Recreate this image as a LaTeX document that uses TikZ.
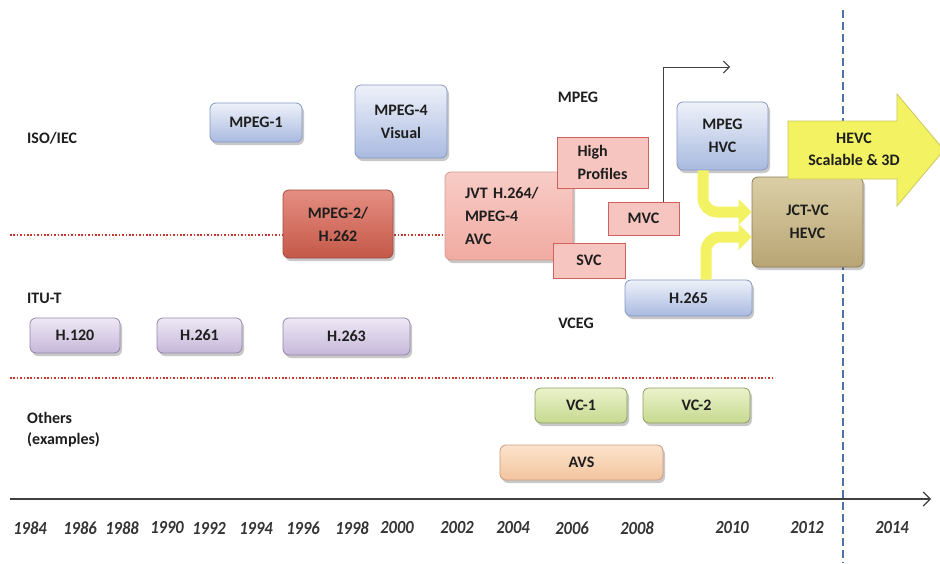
\documentclass[tikz,border=0pt]{standalone}
\usepackage{fontspec}
\setmainfont{Carlito}
\usetikzlibrary{arrows.meta,shadows}

\definecolor{inkc}{HTML}{1E1E1E}
\definecolor{blueT}{HTML}{EEF1F9}
\definecolor{blueB}{HTML}{A9BAE0}
\definecolor{blueD}{HTML}{8797C2}
\definecolor{redT}{HTML}{E58E82}
\definecolor{redB}{HTML}{C45848}
\definecolor{redD}{HTML}{A44A3E}
\definecolor{pinkT}{HTML}{F8CCC6}
\definecolor{pinkB}{HTML}{F0AAA1}
\definecolor{pinkD}{HTML}{D49A92}
\definecolor{pinkF}{HTML}{F7C5BF}
\definecolor{pinkE}{HTML}{D0625C}
\definecolor{purT}{HTML}{EEE8F4}
\definecolor{purB}{HTML}{C6B7DA}
\definecolor{purD}{HTML}{9486A6}
\definecolor{tanT}{HTML}{DBCEA6}
\definecolor{tanB}{HTML}{B8A574}
\definecolor{tanD}{HTML}{8C7C58}
\definecolor{grnT}{HTML}{EAF2CB}
\definecolor{grnB}{HTML}{C6D98F}
\definecolor{grnD}{HTML}{8E9E64}
\definecolor{pchT}{HTML}{FCE3CC}
\definecolor{pchB}{HTML}{F3C49E}
\definecolor{pchD}{HTML}{C99C7E}
\definecolor{yel}{HTML}{F2F262}
\definecolor{yelD}{HTML}{C9C960}
\definecolor{sepred}{HTML}{C8382E}
\definecolor{dashblue}{HTML}{4C72A8}

\tikzset{
  lbl/.style={font=\bfseries\fontsize{16}{19}\selectfont, text=inkc, inner sep=0pt},
  yearlbl/.style={font=\bfseries\itshape\fontsize{16.5}{19}\selectfont, text=inkc!90, inner sep=0pt},
  sz/.style 2 args={minimum width=#1pt, minimum height=#2pt},
  box/.style={rounded corners=6pt, line width=0.8pt, inner sep=0pt, align=center,
    font=\bfseries\fontsize{16}{23}\selectfont, text=inkc,
    drop shadow={shadow xshift=2pt, shadow yshift=-3pt, opacity=0.3, fill=black!70}},
  bluebox/.style={box, draw=blueD, top color=blueT, bottom color=blueB},
  redbox/.style={box, draw=redD, top color=redT, bottom color=redB},
  pinkbox/.style={box, draw=pinkD, top color=pinkT, bottom color=pinkB},
  purbox/.style={box, draw=purD, top color=purT, bottom color=purB},
  tanbox/.style={box, draw=tanD, top color=tanT, bottom color=tanB},
  grnbox/.style={box, draw=grnD, top color=grnT, bottom color=grnB},
  pchbox/.style={box, draw=pchD, top color=pchT, bottom color=pchB},
  subbox/.style={draw=pinkE, fill=pinkF, line width=0.8pt, inner sep=0pt, align=left,
    font=\bfseries\fontsize{16}{23}\selectfont, text=inkc},
  sepline/.style={draw=sepred, line width=1.6pt, dash pattern=on 1.6pt off 1.8pt},
  yflow/.style={draw=yel, line width=11pt, rounded corners=14pt,
    -{Triangle[length=13pt,width=25pt]}},
  thinflow/.style={draw=inkc!85, line width=1pt, -{Straight Barb[length=6pt,width=12pt]}},
  axisline/.style={draw=inkc!85, line width=1.2pt, -{Straight Barb[length=7pt,width=14pt]}},
}

\begin{document}
\begin{tikzpicture}[x=1pt,y=-1pt]
\useasboundingbox (0,0) rectangle (940,563);
\fill[white] (0,0) rectangle (940,563);

% 2013 marker
\draw[dashblue, line width=2.6pt, dash pattern=on 8pt off 4pt] (843,10) -- (843,563);

% group separators
\draw[sepline] (10,235) -- (445,235);
\draw[sepline] (10,378) -- (775,378);

% group labels
\node[lbl, anchor=west] (isoiec) at (27,138) {ISO/IEC};
\node[lbl] (mpeglbl) at (578,97) {MPEG};
\node[lbl, anchor=west] (itut) at (27,298) {ITU-T};
\node[lbl] (vceglbl) at (576,323) {VCEG};
\node[lbl, anchor=west, align=left, font=\bfseries\fontsize{16}{21}\selectfont] (others) at (27,430) {Others\\(examples)};

% ISO/IEC standards
\node[bluebox, sz={92}{39}] (mpegone) at (256,122.5) {MPEG-1};
\node[bluebox, sz={92}{73}] (mpegfour) at (401,121.5) {MPEG-4\\Visual};
\node[redbox, sz={110}{68}] (mpegtwo) at (338,224) {MPEG-2/\\H.262};

% joint AVC work and its extensions
\node[pinkbox, sz={128}{88}, align=left, text width=88pt] (jvt) at (509,216) {JVT H.264/\\MPEG-4\\AVC};
\node[subbox, sz={91}{51}] (highprof) at (602.5,162.5) {High\\Profiles};
\node[subbox, sz={71}{33}, align=center] (mvc) at (643.5,218.5) {MVC};
\node[subbox, sz={72}{35}, align=center] (svc) at (589,260.5) {SVC};

% HEVC path
\node[bluebox, sz={91}{68}] (mpeghvc) at (722.5,136) {MPEG\\HVC};
\node[bluebox, sz={127}{36}] (hzsf) at (688.5,298) {H.265};
\node[tanbox, sz={111}{90}] (jct) at (807.5,222) {JCT-VC\\HEVC};

% ITU-T standards
\node[purbox, sz={90}{35}] (honetwenty) at (75,335.5) {H.120};
\node[purbox, sz={85}{35}] (htsone) at (199.5,335.5) {H.261};
\node[purbox, sz={127}{37}] (htsthree) at (346.5,336.5) {H.263};

% other codecs
\node[grnbox, sz={92}{35}] (vcone) at (581,405.5) {VC-1};
\node[grnbox, sz={107}{35}] (vctwo) at (696.5,405.5) {VC-2};
\node[pchbox, sz={163}{35}] (avs) at (581.5,462.5) {AVS};

% connectors
\coordinate (mvcout) at (730,67);
\draw[thinflow] ([xshift=19.5pt]mvc.north) |- (mvcout);
\draw[yflow] ([xshift=-19.5pt]mpeghvc.south) |- ([yshift=10pt]jct.west);
\draw[yflow] ([xshift=17.5pt]hzsf.north) |- ([yshift=-15pt]jct.west);

% follow-up extensions
\draw[draw=yelD, line width=0.8pt, fill=yel]
  (788,121) -- (897,121) -- (897,94) -- (944,150) -- (897,206) -- (897,179) -- (788,179) -- cycle;
\node[lbl, align=center, font=\bfseries\fontsize{16}{22}\selectfont] (hevcext) at (854,149) {HEVC\\Scalable \& 3D};

% time axis
\coordinate (axstart) at (10,499);
\coordinate (axend) at (931,499);
\draw[axisline] (axstart) -- (axend);
\foreach \yr/\xx in {1984/30,1986/80,1988/122,1990/167,1992/209,1994/256,1996/303,1998/352,
                     2000/397,2002/457,2004/513,2006/572,2008/637,2010/732,2012/807,2014/892}
  \node[yearlbl] (yr\yr) at (\xx,528) {\scalebox{1}[1.12]{\yr}};
\end{tikzpicture}
\end{document}
